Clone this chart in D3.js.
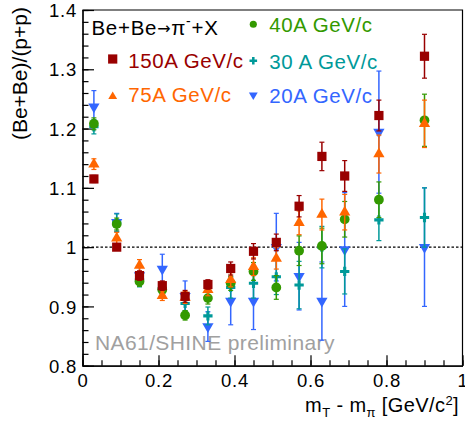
<!DOCTYPE html>
<html>
<head>
<meta charset="utf-8">
<script src="https://cdn.jsdelivr.net/npm/d3@7"></script>
<style>
  body { margin: 0; background: #fff; }
  text { font-family: "Liberation Sans", Arial, sans-serif; }
</style>
</head>
<body>
<svg id="chart" width="465" height="428"></svg>
<script>
const width = 465;
const height = 428;

// bin centres (mT - m_pi)
const xBins = [0.03, 0.09, 0.15, 0.21, 0.27, 0.33, 0.39, 0.45, 0.51, 0.57, 0.63, 0.69, 0.78, 0.9];

// ratio values, one list per beam momentum
const val150 = [1.115, 1.000, 0.952, 0.935, 0.917, 0.937, 0.964, 0.993, 1.008, 1.069, 1.153, 1.120, 1.222, 1.322];
const err150 = [0.006, 0.005, 0.008, 0.008, 0.010, 0.008, 0.011, 0.013, 0.014, 0.018, 0.024, 0.026, 0.026, 0.037];
const val75  = [1.140, 1.015, 0.969, 0.918, 0.915, 0.928, 0.945, 0.967, 0.981, 1.041, 1.055, 1.059, 1.157, 1.208];
const err75  = [0.009, 0.010, 0.010, 0.008, 0.010, 0.010, 0.012, 0.015, 0.018, 0.020, 0.026, 0.030, 0.032, 0.040];
const val40  = [1.208, 1.039, 0.942, 0.928, 0.885, 0.914, 0.939, 0.959, 0.932, 0.994, 1.002, 1.047, 1.080, 1.214];
const err40  = [0.010, 0.010, 0.008, 0.008, 0.008, 0.010, 0.012, 0.015, 0.020, 0.025, 0.030, 0.030, 0.030, 0.044];
const val30  = [1.203, 1.041, 0.945, 0.930, 0.905, 0.884, 0.932, 0.939, 0.950, 0.936, 1.000, 0.959, 1.046, 1.050];
const err30  = [0.012, 0.015, 0.012, 0.010, 0.012, 0.015, 0.018, 0.025, 0.030, 0.040, 0.035, 0.038, 0.035, 0.050];
const val20  = [1.237, 1.042, 0.952, 0.963, 0.917, 0.866, 0.909, 0.909, 1.000, 0.951, 0.909, 0.996, 1.194, 1.000];
const err20  = [0.027, 0.015, 0.016, 0.025, 0.026, 0.025, 0.040, 0.048, 0.057, 0.057, 0.066, 0.096, 0.103, 0.100];

const seriesNames = ["150A GeV/c", "75A GeV/c", "40A GeV/c", "30 A GeV/c", "20A GeV/c"];
const seriesColors = ["#990000", "#ff6600", "#339900", "#009999", "#3366ff"];
const xTickLabels = ["0", "0.2", "0.4", "0.6", "0.8", "1"];
const yTickLabels = ["0.8", "0.9", "1", "1.1", "1.2", "1.3", "1.4"];

const margin = {top: 10, right: 2.5, bottom: 62.3, left: 82.5};
const font = '"Liberation Sans", Arial, sans-serif';

const svg = d3.select('#chart');

const scaleX = d3.scaleLinear()
  .domain([0, 1])
  .range([margin.left, width - margin.right]);

const scaleY = d3.scaleLinear()
  .domain([0.8, 1.4])
  .range([height - margin.bottom, margin.top]);

// marker shapes
const shapes = [
  d3.symbol().type(d3.symbolSquare).size(85),
  d3.symbol().type(d3.symbolTriangle).size(55),
  d3.symbol().type(d3.symbolCircle).size(75),
  d3.symbol().type(d3.symbolCross).size(48),
  d3.symbol().type(d3.symbolTriangle).size(55)
];
const legendShapes = [
  d3.symbol().type(d3.symbolSquare).size(85),
  d3.symbol().type(d3.symbolTriangle).size(34),
  d3.symbol().type(d3.symbolCircle).size(40),
  d3.symbol().type(d3.symbolCross).size(32),
  d3.symbol().type(d3.symbolTriangle).size(34)
];
const flipped = [false, false, false, false, true];

const vals = [val150, val75, val40, val30, val20];
const errs = [err150, err75, err40, err30, err20];

const series = seriesNames.map((name, i) => ({
  name: name,
  color: seriesColors[i],
  shape: shapes[i],
  legendShape: legendShapes[i],
  flip: flipped[i],
  points: xBins.map((x, j) => ({x: x, y: vals[i][j], e: errs[i][j]}))
}));

// axes, ROOT style ticks pointing inward
const xAxis = d3.axisBottom(scaleX)
  .tickValues(d3.range(0, 6).map(i => i * 0.2))
  .tickFormat((d, i) => xTickLabels[i])
  .tickSize(-10.5)
  .tickSizeOuter(0)
  .tickPadding(8);

const xMinor = d3.axisBottom(scaleX)
  .tickValues(d3.range(0, 21).map(i => i * 0.05))
  .tickFormat('')
  .tickSize(-5.5)
  .tickSizeOuter(0);

const yAxis = d3.axisLeft(scaleY)
  .tickValues(d3.range(0, 7).map(i => 0.8 + i * 0.1))
  .tickFormat((d, i) => yTickLabels[i])
  .tickSize(-11.5)
  .tickSizeOuter(0)
  .tickPadding(5.5);

const yMinor = d3.axisLeft(scaleY)
  .tickValues(d3.range(0, 31).map(i => 0.8 + i * 0.02))
  .tickFormat('')
  .tickSize(-6)
  .tickSizeOuter(0);

const bottomY = height - margin.bottom;

svg.append('g').attr('transform', `translate(0,${bottomY})`).call(xMinor);
svg.append('g').attr('class', 'xaxis').attr('transform', `translate(0,${bottomY})`).call(xAxis);
svg.append('g').attr('transform', `translate(${margin.left},0)`).call(yMinor);
svg.append('g').attr('class', 'yaxis').attr('transform', `translate(${margin.left},0)`).call(yAxis);

svg.selectAll('.tick line, .domain').attr('stroke', '#000').attr('stroke-width', 1.2);
svg.selectAll('.xaxis text, .yaxis text')
  .style('font-family', font)
  .style('font-size', '18.5px')
  .style('letter-spacing', '0.8px')
  .attr('fill', '#000');
svg.selectAll('.yaxis text').attr('dy', '0.36em');

// top and right frame
svg.append('path')
  .attr('d', `M${scaleX(0)},${scaleY(1.4)}H${scaleX(1)}V${scaleY(0.8)}`)
  .attr('fill', 'none')
  .attr('stroke', '#000')
  .attr('stroke-width', 1.2);

// reference line at 1
svg.append('line')
  .attr('x1', scaleX(0)).attr('x2', scaleX(1))
  .attr('y1', scaleY(1)).attr('y2', scaleY(1))
  .attr('stroke', '#000')
  .attr('stroke-width', 1.2)
  .attr('stroke-dasharray', '2.5,2');

// preliminary label
svg.append('text')
  .attr('x', 95)
  .attr('y', 350)
  .attr('fill', '#a0a0a0')
  .style('font-size', '21px')
  .style('letter-spacing', '0.4px')
  .text('NA61/SHINE preliminary');

// data, drawn from the back (20A) to the front (150A)
const drawOrder = series.slice().reverse();
const groups = svg.selectAll('g.series')
  .data(drawOrder)
  .enter()
  .append('g')
  .attr('class', 'series');

groups.each(function (s) {
  const g = d3.select(this);
  const bars = g.selectAll('g.err').data(s.points).enter().append('g').attr('class', 'err');
  bars.append('line')
    .attr('x1', d => scaleX(d.x)).attr('x2', d => scaleX(d.x))
    .attr('y1', d => scaleY(d.y + d.e)).attr('y2', d => scaleY(d.y - d.e))
    .attr('stroke', s.color).attr('stroke-width', 1.5);
  bars.append('line')
    .attr('x1', d => scaleX(d.x) - 2.5).attr('x2', d => scaleX(d.x) + 2.5)
    .attr('y1', d => scaleY(d.y + d.e)).attr('y2', d => scaleY(d.y + d.e))
    .attr('stroke', s.color).attr('stroke-width', 1.2);
  bars.append('line')
    .attr('x1', d => scaleX(d.x) - 2.5).attr('x2', d => scaleX(d.x) + 2.5)
    .attr('y1', d => scaleY(d.y - d.e)).attr('y2', d => scaleY(d.y - d.e))
    .attr('stroke', s.color).attr('stroke-width', 1.2);
  g.selectAll('path.marker').data(s.points).enter().append('path')
    .attr('class', 'marker')
    .attr('d', s.shape)
    .attr('transform', d => `translate(${scaleX(d.x)},${scaleY(d.y)})` + (s.flip ? ' rotate(180)' : ''))
    .attr('fill', s.color);
});

// legend
const legendPos = [
  {mx: 112.7, my: 59, tx: 128.3, ty: 67.7},
  {mx: 112.7, my: 96.5, tx: 128.3, ty: 102},
  {mx: 253.3, my: 24.3, tx: 269.3, ty: 31.7},
  {mx: 253.3, my: 60.7, tx: 269.3, ty: 68.5},
  {mx: 253.3, my: 95, tx: 269.3, ty: 103.3}
];

svg.append('text')
  .attr('x', 91.5)
  .attr('y', 35)
  .attr('fill', '#000')
  .style('font-size', '20.5px')
  .style('letter-spacing', '0.7px')
  .call(t => {
    t.append('tspan').text('Be+Be');
    t.append('tspan').style('font-family', '"DejaVu Sans", sans-serif').style('font-size', '16px').attr('dy', -1).text('\u2192');
    t.append('tspan').attr('dy', 1).text('\u03c0');
    t.append('tspan').attr('dy', -9).style('font-size', '14px').text('-');
    t.append('tspan').attr('dy', 9).text('+X');
  });

series.forEach((s, i) => {
  const p = legendPos[i];
  svg.append('path')
    .attr('d', s.legendShape)
    .attr('transform', `translate(${p.mx},${p.my})` + (s.flip ? ' rotate(180)' : ''))
    .attr('fill', s.color);
  svg.append('text')
    .attr('x', p.tx)
    .attr('y', p.ty)
    .attr('fill', s.color)
    .style('font-size', '20.5px')
    .style('letter-spacing', '0.6px')
    .text(s.name);
});

// axis titles
svg.append('text')
  .attr('transform', 'translate(27,7) rotate(-90)')
  .attr('text-anchor', 'end')
  .attr('fill', '#000')
  .style('font-size', '21px')
  .text('(Be+Be)/(p+p)');

svg.append('text')
  .attr('x', 459)
  .attr('y', 412)
  .attr('text-anchor', 'end')
  .attr('fill', '#000')
  .style('font-size', '20px')
  .style('letter-spacing', '0.4px')
  .call(t => {
    t.append('tspan').text('m');
    t.append('tspan').attr('dy', 5).style('font-size', '13px').text('T');
    t.append('tspan').attr('dy', -5).text(' - m');
    t.append('tspan').attr('dy', 5).style('font-size', '13px').text('\u03c0');
    t.append('tspan').attr('dy', -5).text(' [GeV/c');
    t.append('tspan').attr('dy', -7).style('font-size', '13px').text('2');
    t.append('tspan').attr('dy', 7).text(']');
  });
</script>
</body>
</html>
